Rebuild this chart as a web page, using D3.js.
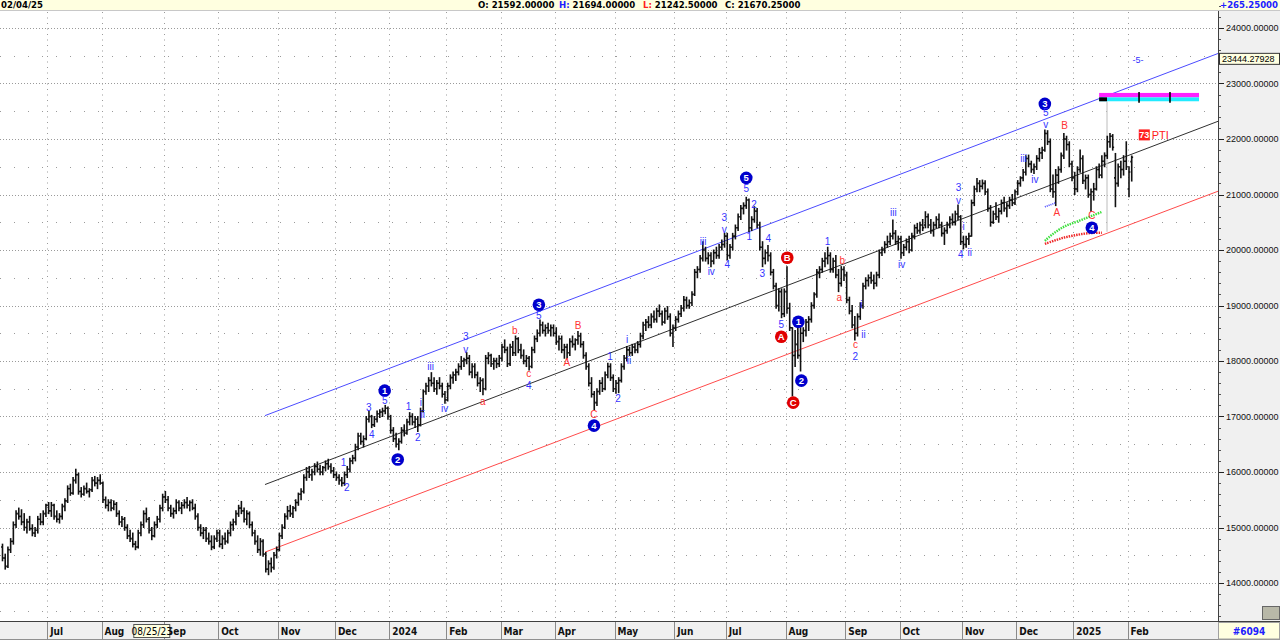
<!DOCTYPE html>
<html>
<head>
<meta charset="utf-8">
<script src="https://cdn.jsdelivr.net/npm/d3@7"></script>
<style>
  body { margin: 0; background: #fff; }
  svg { display: block; font-family: "Liberation Sans", Arial, sans-serif; }
</style>
</head>
<body>
<div id="chart"></div>
<script>
// daily bars [open, high, low, close], one array per month
const jun23 = [[14650,14700,14400,14450],[14450,14520,14250,14300],[14300,14650,14280,14600],[14600,14800,14550,14750],[14750,15100,14700,15050],[15050,15300,15000,15250],[15250,15350,15150,15200],[15200,15320,15050,15100],[15100,15250,14950,15000],[15000,15150,14900,15100],[15100,15200,14950,14980],[14980,15050,14850,14900],[14900,15000,14840,14950],[14950,15200,14900,15150],[15150,15250,15050,15100],[15100,15300,15050,15250],[15250,15420,15200,15400]];
const jul23 = [[15400,15450,15250,15300],[15300,15450,15200,15400],[15400,15420,15150,15200],[15200,15300,15100,15150],[15150,15250,15080,15200],[15200,15420,15150,15380],[15380,15520,15300,15480],[15480,15750,15450,15700],[15700,15780,15580,15620],[15620,15900,15600,15850],[15850,16050,15800,15950],[15950,15980,15600,15650],[15650,15720,15550,15600],[15600,15750,15580,15700],[15700,15800,15620,15650],[15650,15700,15550,15680],[15680,15900,15650,15850],[15850,15920,15750,15800],[15800,15900,15700,15850],[15850,15950,15780,15800]];
const aug23 = [[15800,15820,15450,15500],[15500,15550,15350,15400],[15400,15500,15300,15450],[15450,15500,15300,15350],[15350,15480,15320,15420],[15420,15450,15200,15250],[15250,15300,15050,15100],[15100,15200,15020,15150],[15150,15180,14950,15000],[15000,15050,14800,14850],[14850,14950,14750,14800],[14800,14900,14650,14700],[14700,14750,14600,14650],[14650,14950,14630,14900],[14900,15100,14850,15050],[15050,15300,15000,15250],[15250,15350,15100,15150],[15150,15180,14900,14950],[14950,15000,14780,14850],[14850,15100,14830,15050],[15050,15200,15000,15150],[15150,15400,15100,15350],[15350,15600,15300,15550]];
const sep23 = [[15550,15650,15450,15500],[15500,15560,15300,15350],[15350,15400,15200,15250],[15250,15350,15170,15300],[15300,15500,15250,15450],[15450,15480,15300,15350],[15350,15450,15250,15400],[15400,15500,15350,15450],[15450,15540,15350,15400],[15400,15480,15300,15450],[15450,15500,15320,15350],[15350,15420,15150,15200],[15200,15250,14950,15000],[15000,15050,14850,14900],[14900,15000,14800,14950],[14950,15000,14750,14800],[14800,14900,14700,14750],[14750,14850,14600,14650],[14650,14850,14620,14800],[14800,14950,14750,14900]];
const oct23 = [[14900,14950,14650,14700],[14700,14850,14620,14800],[14800,14900,14700,14750],[14750,14950,14720,14900],[14900,15100,14850,15050],[15050,15150,14950,15100],[15100,15300,15050,15250],[15250,15400,15200,15350],[15350,15470,15250,15300],[15300,15350,15100,15150],[15150,15300,15050,15250],[15250,15280,15000,15050],[15050,15100,14850,14900],[14900,14950,14700,14750],[14750,14850,14550,14600],[14600,14800,14500,14750],[14750,14780,14480,14520],[14520,14550,14200,14250],[14250,14400,14150,14350],[14350,14450,14200,14280],[14280,14550,14250,14500],[14500,14650,14450,14600]];
const nov23 = [[14600,14900,14580,14850],[14850,15050,14800,15000],[15000,15250,14980,15200],[15200,15380,15150,15300],[15300,15400,15200,15250],[15250,15380,15180,15350],[15350,15500,15300,15450],[15450,15620,15400,15600],[15600,15700,15500,15650],[15650,15950,15620,15900],[15900,16080,15850,16000],[16000,16100,15900,15950],[15950,16050,15850,16000],[16000,16150,15950,16100],[16100,16180,16000,16050],[16050,16120,15950,16000],[16000,16100,15950,16080],[16080,16200,16020,16150],[16150,16230,16050,16100],[16100,16150,15980,16020],[16020,16080,15900,15950]];
const dec23 = [[15950,16000,15850,15900],[15900,15950,15780,15850],[15850,15900,15750,15800],[15800,16000,15760,15950],[15950,16100,15900,16050],[16050,16250,16000,16200],[16200,16300,16150,16250],[16250,16500,16200,16450],[16450,16700,16400,16650],[16650,16700,16500,16550],[16550,16650,16450,16600],[16600,17000,16580,16950],[16950,17090,16900,17000],[17000,17020,16800,16850],[16850,17000,16820,16950],[16950,17100,16900,17050],[17050,17120,16980,17080],[17080,17150,17000,17100],[17100,17200,17050,17150],[17150,17170,16950,17000]];
const jan24 = [[17000,17020,16700,16750],[16750,16800,16550,16600],[16600,16700,16450,16500],[16500,16600,16400,16550],[16550,16800,16520,16750],[16750,16850,16650,16700],[16700,16950,16680,16900],[16900,17070,16850,17000],[17000,17050,16850,16900],[16900,17000,16800,16950],[16950,17000,16730,16850],[16850,17150,16830,17100],[17100,17480,17080,17450],[17450,17600,17400,17550],[17550,17700,17450,17650],[17650,17790,17550,17600],[17600,17700,17450,17500],[17500,17650,17400,17600],[17600,17700,17500,17550],[17550,17600,17350,17400],[17400,17450,17240,17300]];
const feb24 = [[17300,17600,17280,17550],[17550,17750,17500,17700],[17700,17800,17600,17750],[17750,17850,17650,17800],[17800,17950,17750,17900],[17900,18080,17850,18000],[18000,18050,17900,18020],[18020,18150,17950,18050],[18050,18100,17750,17800],[17800,17950,17700,17900],[17900,17950,17700,17750],[17750,17800,17550,17600],[17600,17700,17450,17650],[17650,17680,17390,17500],[17500,18100,17480,18050],[18050,18150,17950,18100],[18100,18120,17900,17950],[17950,18050,17850,18000],[18000,18050,17880,17950],[17950,18100,17900,18050]];
const mar24 = [[18050,18300,18000,18250],[18250,18380,18150,18200],[18200,18250,17900,17950],[17950,18300,17920,18250],[18250,18350,18100,18150],[18150,18450,18100,18400],[18400,18420,18150,18200],[18200,18300,18050,18100],[18100,18200,17950,18000],[18000,18100,17900,18050],[18050,18080,17840,17900],[17900,18250,17880,18200],[18200,18450,18150,18400],[18400,18560,18350,18500],[18500,18740,18450,18650],[18650,18700,18500,18550],[18550,18650,18450,18600],[18600,18680,18500,18550],[18550,18650,18450,18600],[18600,18650,18450,18500]];
const apr24 = [[18500,18600,18300,18350],[18350,18450,18200,18400],[18400,18450,18150,18200],[18200,18300,18050,18250],[18250,18300,18050,18150],[18150,18400,18100,18350],[18350,18450,18250,18300],[18300,18400,18200,18380],[18380,18530,18300,18450],[18450,18500,18250,18300],[18300,18350,18050,18100],[18100,18150,17850,17900],[17900,17950,17550,17600],[17600,17700,17350,17400],[17400,17450,17120,17250],[17250,17500,17200,17450],[17450,17650,17400,17600],[17600,17700,17450,17500],[17500,17800,17480,17750],[17750,17960,17700,17900],[17900,17950,17650,17700],[17700,17750,17450,17500]];
const may24 = [[17500,17650,17420,17600],[17600,17700,17430,17650],[17650,17950,17620,17900],[17900,18100,17850,18050],[18050,18260,18000,18200],[18200,18250,18100,18150],[18150,18300,18100,18250],[18250,18300,18150,18200],[18200,18350,18150,18300],[18300,18500,18250,18450],[18450,18700,18400,18650],[18650,18750,18550,18700],[18700,18800,18600,18650],[18650,18850,18600,18800],[18800,18900,18700,18750],[18750,18950,18700,18900],[18900,19010,18800,18850],[18850,18900,18650,18700],[18700,18950,18680,18900],[18900,18980,18750,18800],[18800,18850,18450,18500],[18500,18650,18260,18600]];
const jun24 = [[18600,18800,18550,18750],[18750,18900,18700,18850],[18850,19000,18800,18950],[18950,19160,18900,19100],[19100,19150,18950,19000],[19000,19100,18950,19050],[19050,19250,19000,19200],[19200,19650,19180,19600],[19600,19700,19500,19650],[19650,19900,19600,19850],[19850,20150,19800,20000],[20000,20050,19800,19850],[19850,19950,19750,19900],[19900,19950,19700,19800],[19800,20000,19750,19950],[19950,20050,19850,19900],[19900,20100,19850,20050],[20050,20180,20000,20100],[20100,20300,20050,20250]];
const jul24 = [[20250,20300,19820,19900],[19900,20100,19850,20050],[20050,20300,20000,20250],[20250,20450,20200,20400],[20400,20650,20350,20600],[20600,20800,20550,20750],[20750,20850,20650,20800],[20800,20950,20750,20900],[20900,20920,20330,20400],[20400,20600,20350,20550],[20550,20780,20500,20700],[20700,20750,20400,20450],[20450,20500,20000,20050],[20050,20150,19700,19850],[19850,20000,19750,19950],[19950,20080,19800,19900],[19900,19950,19550,19600],[19600,19650,19300,19350],[19350,19400,18950,19000],[19000,19300,18900,19250],[19250,19300,18780,18850],[18850,19300,18800,19250]];
const aug24 = [[19250,19700,18860,18950],[18950,19040,18550,18600],[18600,18600,17370,18100],[18100,18550,17900,18300],[18300,18620,18050,18100],[18100,18600,17820,18500],[18500,18600,18350,18550],[18550,18750,18450,18700],[18700,18800,18550,18750],[18750,19050,18700,19000],[19000,19230,18950,19200],[19200,19650,19150,19600],[19600,19700,19500,19650],[19650,19850,19600,19800],[19800,19950,19700,19850],[19850,20050,19750,19900],[19900,19950,19600,19650],[19650,19850,19600,19800],[19800,19900,19500,19550],[19550,19650,19250,19400],[19400,19700,19350,19650],[19650,19700,19450,19550]];
const sep24 = [[19550,19600,19050,19100],[19100,19150,18850,18900],[18900,19000,18600,18650],[18650,18800,18380,18500],[18500,18850,18450,18800],[18800,19050,18750,19000],[19000,19400,18950,19350],[19350,19500,19300,19450],[19450,19550,19350,19500],[19500,19600,19400,19450],[19450,19550,19300,19400],[19400,19600,19350,19550],[19550,20000,19500,19950],[19950,20050,19900,20000],[20000,20150,19950,20100],[20100,20250,20050,20150],[20150,20300,20100,20250],[20250,20540,20200,20300],[20300,20350,20100,20150],[20150,20250,20000,20200]];
const oct24 = [[20200,20250,19850,19950],[19950,20100,19900,20050],[20050,20200,20000,20150],[20150,20250,19950,20000],[20000,20300,19980,20250],[20250,20450,20200,20400],[20400,20480,20300,20350],[20350,20500,20300,20450],[20450,20550,20350,20400],[20450,20690,20400,20600],[20600,20650,20400,20450],[20450,20550,20300,20350],[20350,20500,20250,20450],[20450,20600,20400,20550],[20550,20650,20400,20450],[20450,20500,20250,20300],[20300,20400,20100,20350],[20350,20500,20300,20450],[20450,20600,20400,20550],[20550,20650,20450,20500],[20500,20700,20450,20650],[20650,20810,20550,20600],[20600,20620,20100,20150]];
const nov24 = [[20150,20250,20020,20100],[20100,20250,20050,20200],[20200,20300,20100,20250],[20250,20900,20250,20850],[20850,21150,20800,21100],[21100,21290,21050,21200],[21200,21250,21050,21150],[21150,21260,21100,21200],[21200,21250,21000,21050],[21050,21100,20700,20750],[20750,20800,20430,20500],[20500,20700,20480,20650],[20650,20850,20550,20600],[20600,20750,20500,20700],[20700,20900,20650,20850],[20850,20950,20700,20750],[20750,20850,20600,20800],[20800,20950,20750,20900],[20900,21000,20800,20850],[20850,21080,20820,21050]];
const dec24 = [[21050,21250,21000,21200],[21200,21320,21150,21300],[21300,21450,21250,21400],[21400,21700,21350,21650],[21650,21710,21500,21550],[21550,21600,21400,21450],[21450,21550,21380,21500],[21500,21700,21450,21650],[21650,21830,21600,21750],[21750,21850,21650,21800],[21800,22160,21780,22100],[22100,22150,21900,21950],[21950,22000,21050,21100],[21100,21350,20950,21050],[21050,21450,20800,21350],[21350,21500,21200,21450],[21450,21750,21400,21700],[21700,22100,21650,22000],[22000,22050,21800,21900],[21900,21950,21500,21550],[21550,21600,21250,21300]];
const jan25 = [[21300,21400,21000,21100],[21100,21500,21050,21450],[21450,21800,21400,21650],[21650,21700,21200,21250],[21250,21350,21100,21300],[21300,21350,20950,21000],[21000,21100,20700,21050],[21050,21200,20900,21100],[21100,21500,21080,21450],[21450,21550,21300,21350],[21350,21700,21300,21600],[21600,21750,21500,21700],[21700,22050,21650,21950],[21950,22100,21850,22050],[22050,22080,21800,21850],[21300,21740,20780,21200],[21200,21550,21150,21500],[21500,21600,21300,21450],[21450,21700,21350,21600],[21600,21950,21450,21500]];
const feb25 = [[21100,21500,20960,21405],[21592,21694,21242.5,21670.25]];

const monthLabels = ["", "Jul", "Aug", "Sep", "Oct", "Nov", "Dec", "2024", "Feb", "Mar", "Apr", "May", "Jun", "Jul", "Aug", "Sep", "Oct", "Nov", "Dec", "2025", "Feb"];
const priceTicks = [14000, 15000, 16000, 17000, 18000, 19000, 20000, 21000, 22000, 23000, 24000];

// trend channel [bar index, price] at both ends
const channelUpper = [[96.7, 17016], [447.8, 23541]];
const channelMid = [[96.7, 15774], [447.8, 22319]];
const channelLower = [[96.7, 14556], [447.8, 21059]];

// wave labels: bar index, price, text, kind (cb / cr = circled blue / red, b / r = plain)
const waveLabels = [
  [140.8, 17466, "1", "cb"], [145.6, 16224, "2", "cb"], [197.6, 19014, "3", "cb"], [217.9, 16836, "4", "cb"],
  [274, 21300, "5", "cb"], [293.2, 18708, "1", "cb"], [294.3, 17646, "2", "cb"], [384, 22632, "3", "cb"], [401.3, 20400, "4", "cb"],
  [286.9, 18438, "A", "cr"], [289.1, 19860, "B", "cr"], [291.3, 17250, "C", "cr"],
  [125.6, 16170, "1", "b"], [126.8, 15720, "2", "b"], [134.9, 17160, "3", "b"], [136, 16674, "4", "b"], [140.8, 17286, "5", "b"],
  [149.6, 17178, "1", "b"], [153, 16620, "2", "b"], [154.1, 17250, "i", "b"], [154.8, 17034, "ii", "b"],
  [157.7, 17898, "iii", "b"], [162.9, 17142, "iv", "b"], [170.7, 18438, "3", "b"], [170.7, 18204, "v", "b"],
  [193.9, 17556, "4", "b"], [197.6, 18816, "5", "b"], [223.8, 18078, "1", "b"], [226.8, 17322, "2", "b"],
  [230.1, 18384, "i", "b"], [230.8, 18006, "ii", "b"], [258.1, 20148, "iii", "b"], [261.1, 19608, "iv", "b"],
  [265.9, 20580, "3", "b"], [265.9, 20364, "v", "b"], [267, 19734, "4", "b"], [274, 21102, "5", "b"],
  [275.1, 20238, "1", "b"], [276.9, 20814, "2", "b"], [279.9, 19572, "3", "b"], [282.1, 20202, "4", "b"],
  [286.9, 18654, "5", "b"], [303.9, 20148, "1", "b"], [314.2, 18078, "2", "b"], [316.4, 19014, "i", "b"],
  [317.2, 18474, "ii", "b"], [328.2, 20670, "iii", "b"], [331.2, 19734, "iv", "b"], [352.2, 21120, "3", "b"],
  [352.2, 20886, "v", "b"], [354.1, 20418, "i", "b"], [353, 19914, "4", "b"], [356.3, 19950, "ii", "b"],
  [376.2, 21642, "iii", "b"], [380.3, 21264, "iv", "b"], [384.3, 22470, "5", "b"], [384.3, 22254, "v", "b"],
  [418.3, 23424, "-5-", "b"],
  [176.9, 17268, "a", "r"], [188.7, 18546, "b", "r"], [193.9, 17772, "c", "r"], [207.9, 17970, "A", "r"],
  [212, 18636, "B", "r"], [217.9, 17034, "C", "r"], [309.4, 19806, "b", "r"], [308.3, 19140, "a", "r"],
  [314.2, 18294, "c", "r"], [388.4, 20670, "A", "r"], [391.3, 22236, "B", "r"], [401.3, 20616, "C", "r"]
];

// projection overlays
const greenBand = [[384, 20166], [386.5, 20274], [389.5, 20382], [392.4, 20454], [395.8, 20508], [399.4, 20580], [402.4, 20634], [405, 20688]];
const redBand = [[384, 20112], [387.4, 20166], [390.4, 20220], [394.1, 20256], [397.8, 20292], [401.4, 20310], [405, 20310]];
const blueDash = [[384, 20778], [388, 20850]];
const targetZone = { start: 404, end: 440.8, boxEnd: 406.9, ticks: [418.7, 430.1], magenta: [22750, 22830], cyan: [22680, 22750] };
const targetDrop = [[406.9, 22677], [406.9, 20330]];
const pti = { idx: 418.6, price: 22074, value: "73" };
const channelValue = 23444.27928;
const cursorBar = 55, cursorText = "08/25/23";

const W = 1280, H = 640;
const plotR = 1218, plotT = 12, plotB = 621;
const narrow = "'Liberation Sans Narrow','DejaVu Sans Condensed','Liberation Sans',Arial,sans-serif";

const months = [jun23, jul23, aug23, sep23, oct23, nov23, dec23, jan24, feb24, mar24, apr24, may24, jun24, jul24, aug24, sep24, oct24, nov24, dec24, jan25, feb25];
const bars = [], monthStarts = [];
months.forEach((m, k) => {
  monthStarts.push({ label: monthLabels[k], idx: bars.length });
  m.forEach(b => bars.push({ i: bars.length, o: b[0], h: b[1], l: b[2], c: b[3] }));
});

const x = d3.scaleLinear().domain([0, 415]).range([2.5, 1129]);
const y = d3.scaleLinear().domain([14000, 24000]).range([583, 28]);

const svg = d3.select("#chart").append("svg").attr("width", W).attr("height", H);
svg.append("defs").append("clipPath").attr("id", "plot")
  .append("rect").attr("x", 0).attr("y", plotT).attr("width", plotR).attr("height", plotB - plotT);

// header strip
svg.append("rect").attr("x", 0).attr("y", 0).attr("width", W).attr("height", 10).attr("fill", "#ffffe0");
svg.append("line").attr("x1", 0).attr("x2", W).attr("y1", 10.5).attr("y2", 10.5).attr("stroke", "#c8c8c8");
const head = svg.append("g").style("font-family", narrow).style("font-size", "9.5px").style("font-weight", "bold");
head.append("text").attr("x", 1).attr("y", 8).text("02/04/25");
[["O: ", "21592.00000", 478, "#000"], ["H: ", "21694.00000", 559, "#2020ff"], ["L: ", "21242.50000", 643, "#ff2020"], ["C: ", "21670.25000", 725, "#000"]]
  .forEach(d => {
    const t = head.append("text").attr("x", d[2]).attr("y", 8);
    t.append("tspan").attr("fill", d[3]).text(d[0]);
    t.append("tspan").attr("fill", "#000").text(d[1]);
  });
head.append("text").attr("x", 1278).attr("y", 8).attr("text-anchor", "end").attr("fill", "#2020ff").text("+265.25000");

// grid
const grid = svg.append("g").attr("clip-path", "url(#plot)");
grid.selectAll("line.h").data(priceTicks).enter().append("line")
  .attr("x1", 0).attr("x2", plotR).attr("y1", d => Math.round(y(d)) + 0.5).attr("y2", d => Math.round(y(d)) + 0.5)
  .attr("stroke", "#9a9a9a").attr("stroke-dasharray", "1,2");
grid.selectAll("line.hh").data(d3.range(13500, 24500, 1000)).enter().append("line")
  .attr("x1", 0).attr("x2", plotR).attr("y1", d => Math.round(y(d)) + 0.5).attr("y2", d => Math.round(y(d)) + 0.5)
  .attr("stroke", "#9a9a9a").attr("stroke-dasharray", "1,13");
grid.selectAll("line.v").data(monthStarts.slice(1)).enter().append("line")
  .attr("x1", d => Math.round(x(d.idx) - 1.3) + 0.5).attr("x2", d => Math.round(x(d.idx) - 1.3) + 0.5)
  .attr("y1", plotT).attr("y2", plotB).attr("stroke", "#9a9a9a").attr("stroke-dasharray", "1,4.5");

// channel
const chan = svg.append("g").attr("clip-path", "url(#plot)");
const lineGen = d3.line().x(d => x(d[0])).y(d => y(d[1]));
[[channelUpper, "#4b4bff"], [channelMid, "#303030"], [channelLower, "#ff4b4b"]].forEach(c => {
  chan.append("path").attr("d", lineGen(c[0])).attr("fill", "none").attr("stroke", c[1]).attr("stroke-width", 1);
});

// target drop line
chan.append("path").attr("d", lineGen(targetDrop)).attr("stroke", "#c8c8c8").attr("stroke-width", 1.2);

// bars
const barG = svg.append("g").attr("clip-path", "url(#plot)").attr("stroke", "#111").attr("stroke-width", 1.6);
const b = barG.selectAll("g.bar").data(bars).enter().append("g").attr("class", "bar");
b.append("line").attr("x1", d => x(d.i)).attr("x2", d => x(d.i)).attr("y1", d => y(d.h) - 0.5).attr("y2", d => y(d.l) + 0.5);
b.append("line").attr("x1", d => x(d.i) - 1.4).attr("x2", d => x(d.i)).attr("y1", d => y(d.o)).attr("y2", d => y(d.o));
b.append("line").attr("x1", d => x(d.i)).attr("x2", d => x(d.i) + 1.4).attr("y1", d => y(d.c)).attr("y2", d => y(d.c));

// projection bands
const ov = svg.append("g").attr("clip-path", "url(#plot)").attr("fill", "none");
ov.append("path").attr("d", lineGen.curve(d3.curveBasis)(greenBand)).attr("stroke", "#3ee03e").attr("stroke-width", 2.4).attr("stroke-dasharray", "1.5,1");
ov.append("path").attr("d", lineGen.curve(d3.curveBasis)(redBand)).attr("stroke", "#ee2a2a").attr("stroke-width", 2.4).attr("stroke-dasharray", "1.5,1");
ov.append("path").attr("d", lineGen.curve(d3.curveLinear)(blueDash)).attr("stroke", "#4444ff").attr("stroke-width", 1.6).attr("stroke-dasharray", "1,1");

// target zone
const tz = svg.append("g");
tz.append("rect").attr("x", x(targetZone.start)).attr("width", x(targetZone.end) - x(targetZone.start))
  .attr("y", y(targetZone.magenta[1])).attr("height", y(targetZone.magenta[0]) - y(targetZone.magenta[1])).attr("fill", "#ff22ff");
tz.append("rect").attr("x", x(targetZone.start)).attr("width", x(targetZone.end) - x(targetZone.start))
  .attr("y", y(targetZone.cyan[1])).attr("height", y(targetZone.cyan[0]) - y(targetZone.cyan[1])).attr("fill", "#22eaff");
tz.append("rect").attr("x", x(targetZone.start)).attr("width", x(targetZone.boxEnd) - x(targetZone.start))
  .attr("y", y(targetZone.cyan[1])).attr("height", y(targetZone.cyan[0]) - y(targetZone.cyan[1])).attr("fill", "#000");
tz.selectAll("line").data(targetZone.ticks).enter().append("line")
  .attr("x1", d => x(d)).attr("x2", d => x(d)).attr("y1", y(targetZone.magenta[1]) - 1).attr("y2", y(targetZone.cyan[0]) + 1.5)
  .attr("stroke", "#000").attr("stroke-width", 1.6);

// PTI
const px = x(pti.idx), py = y(pti.price);
svg.append("rect").attr("x", px).attr("y", py - 5.5).attr("width", 11).attr("height", 11).attr("fill", "#ff2020");
svg.append("text").attr("x", px + 5.5).attr("y", py + 3.5).attr("text-anchor", "middle").attr("fill", "#fff")
  .style("font-size", "9px").style("font-weight", "bold").text(pti.value);
svg.append("text").attr("x", px + 13).attr("y", py + 4).attr("fill", "#ff2020").style("font-size", "11px").text("PTI");

// wave labels
const wl = svg.append("g").attr("clip-path", "url(#plot)");
waveLabels.forEach(d => {
  const cx = x(d[0]), cy = y(d[1]);
  if (d[3] === "cb" || d[3] === "cr") {
    wl.append("circle").attr("cx", cx).attr("cy", cy).attr("r", 6.3).attr("fill", d[3] === "cb" ? "#0000cc" : "#e00000");
    wl.append("text").attr("x", cx).attr("y", cy + 3.4).attr("text-anchor", "middle").attr("fill", "#fff")
      .style("font-size", "9.5px").style("font-weight", "bold").text(d[2]);
  } else {
    wl.append("text").attr("x", cx).attr("y", cy + 3.5).attr("text-anchor", "middle")
      .attr("fill", d[3] === "b" ? "#3434ff" : "#ff3434").style("font-size", d[2] === "-5-" ? "9px" : "10px").text(d[2]);
  }
});

// right axis panel
const ax = svg.append("g");
ax.append("rect").attr("x", plotR).attr("y", plotT - 1).attr("width", W - plotR).attr("height", plotB - plotT + 1).attr("fill", "#f0f0f0");
ax.append("line").attr("x1", plotR + 0.5).attr("x2", plotR + 0.5).attr("y1", plotT - 1).attr("y2", plotB).attr("stroke", "#404040");
ax.selectAll("line.minor").data(d3.range(13400, 24600, 200)).enter().append("line")
  .attr("x1", plotR + 1).attr("x2", plotR + 3).attr("y1", d => Math.round(y(d)) + 0.5).attr("y2", d => Math.round(y(d)) + 0.5)
  .attr("stroke", "#555");
ax.selectAll("line.major").data(priceTicks).enter().append("line")
  .attr("x1", plotR + 1).attr("x2", plotR + 6).attr("y1", d => Math.round(y(d)) + 0.5).attr("y2", d => Math.round(y(d)) + 0.5)
  .attr("stroke", "#222");
ax.selectAll("text").data(priceTicks).enter().append("text")
  .attr("x", plotR + 8).attr("y", d => y(d) + 3.2).style("font-size", "9px").attr("fill", "#111")
  .text(d => d3.format(".5f")(d));
const cvY = y(channelValue);
ax.append("rect").attr("x", plotR + 1.5).attr("y", cvY - 5.5).attr("width", W - plotR - 2).attr("height", 11)
  .attr("fill", "#ffffe0").attr("stroke", "#333");
ax.append("text").attr("x", plotR + 4).attr("y", cvY + 3.3).style("font-size", "9px").attr("fill", "#000")
  .text(d3.format(".5f")(channelValue));
ax.append("rect").attr("x", 1262.5).attr("y", 606.5).attr("width", 17).attr("height", 13).attr("fill", "#b8b8a8").attr("stroke", "#666");

// bottom date axis
const bx = svg.append("g").style("font-family", narrow);
bx.append("rect").attr("x", 0).attr("y", plotB + 1).attr("width", W).attr("height", H - plotB - 1).attr("fill", "#f0f0f0");
bx.append("line").attr("x1", 0).attr("x2", W).attr("y1", plotB + 0.5).attr("y2", plotB + 0.5).attr("stroke", "#404040");
bx.append("line").attr("x1", 0).attr("x2", W).attr("y1", H - 0.5).attr("y2", H - 0.5).attr("stroke", "#909090");
const ms = monthStarts.slice(1);
bx.selectAll("line.div").data(ms).enter().append("line")
  .attr("x1", d => Math.round(x(d.idx) - 1.3) + 0.5).attr("x2", d => Math.round(x(d.idx) - 1.3) + 0.5)
  .attr("y1", plotB + 1).attr("y2", H).attr("stroke", "#8a8a8a");
bx.selectAll("text").data(ms).enter().append("text")
  .attr("x", d => x(d.idx) + 1.5).attr("y", 635).style("font-size", "10px").style("font-weight", "bold").attr("fill", "#111")
  .text(d => d.label);
const cx0 = x(cursorBar);
bx.append("rect").attr("x", cx0 - 18).attr("y", 624.5).attr("width", 36).attr("height", 13).attr("fill", "#ffffe0").attr("stroke", "#555");
bx.append("text").attr("x", cx0).attr("y", 635).attr("text-anchor", "middle").style("font-size", "10px").attr("fill", "#000").text(cursorText);
bx.append("rect").attr("x", plotR + 0.5).attr("y", plotB + 1.5).attr("width", W - plotR - 1).attr("height", H - plotB - 2.5)
  .attr("fill", "#ffffe0").attr("stroke", "#a0a0a0");
bx.append("text").attr("x", (plotR + W) / 2).attr("y", 635).attr("text-anchor", "middle").style("font-size", "10px")
  .style("font-weight", "bold").attr("fill", "#2020ff").text("#6094");
</script>
</body>
</html>
